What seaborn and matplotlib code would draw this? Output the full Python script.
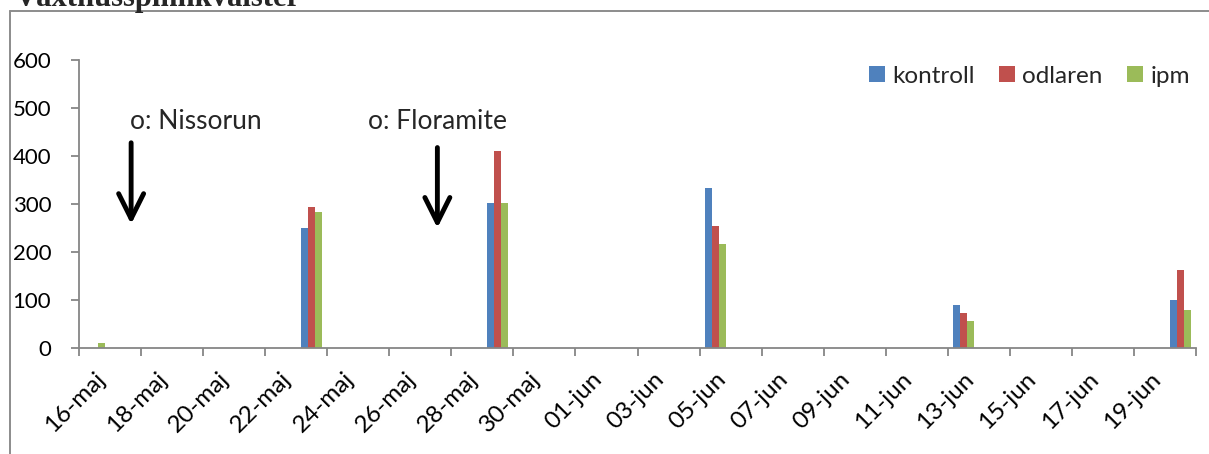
import numpy as np
import pandas as pd
import matplotlib
matplotlib.use("Agg")
import matplotlib.pyplot as plt
from matplotlib.lines import Line2D
import seaborn as sns

# ---- data ----
all_days = ([f"{d:02d}-maj" for d in range(16, 32)] +
            [f"{d:02d}-jun" for d in range(1, 21)])
dates = ["16-maj", "23-maj", "29-maj", "05-jun", "13-jun", "20-jun"]
kontroll = [0, 250, 302, 334, 88, 99]
odlaren = [0, 293, 410, 253, 73, 162]
ipm = [10, 283, 302, 217, 55, 78]
series = ["kontroll", "odlaren", "ipm"]
colors = ["#4F81BD", "#C0504D", "#9BBB59"]
yticks = [0, 100, 200, 300, 400, 500, 600]
title = "Växthusspinnkvalster"
notes = ["o: Nissorun", "o: Floramite"]

rows = []
for s, vals in zip(series, [kontroll, odlaren, ipm]):
    for d, v in zip(dates, vals):
        rows.append({"date": d, "value": v, "series": s})
df = pd.DataFrame(rows)

sns.set_theme(style="white")
plt.rcParams["font.family"] = ["Lato", "DejaVu Sans"]

FS = 17
W, H = 1209, 454
fig = plt.figure(figsize=(W / 100, H / 100), dpi=100)
ax = fig.add_axes([79 / W, (H - 347.5) / H, (1196 - 79) / W, (347.5 - 60.5) / H])

sns.barplot(data=df, x="date", y="value", hue="series", order=all_days,
            hue_order=series, palette=colors, width=0.68, errorbar=None,
            saturation=1, ax=ax, linewidth=0)

ax.set_xlim(-0.5, len(all_days) - 0.5)
ax.set_ylim(0, 600)
ax.set_xlabel("")
ax.set_ylabel("")

grey = "#868686"
for side in ["top", "right"]:
    ax.spines[side].set_visible(False)
for side in ["left", "bottom"]:
    ax.spines[side].set_color(grey)
    ax.spines[side].set_linewidth(1.3)

ax.set_yticks(yticks)
ax.set_yticklabels([str(v) for v in yticks], fontsize=16, color="black")
ax.tick_params(axis="y", which="major", direction="out", length=6, width=1.3,
               color=grey, left=True, pad=14)

major_pos = list(range(0, len(all_days), 2))
ax.set_xticks(major_pos)
ax.set_xticklabels([all_days[i] for i in major_pos], rotation=45, ha="right",
                   rotation_mode="anchor", fontsize=FS + 0.5, color="black")
ax.set_xticks([p - 0.5 for p in range(0, len(all_days) + 1, 2)], minor=True)
ax.tick_params(axis="x", which="major", length=0, pad=15)
ax.tick_params(axis="x", which="minor", direction="out", length=6, width=1.3,
               color=grey, bottom=True)

leg = ax.legend(loc="upper right", bbox_to_anchor=(1.003, 1.015), ncol=3,
                frameon=False, fontsize=FS + 0.5, handlelength=0.65,
                handleheight=0.65, handletextpad=0.3, columnspacing=1.0,
                borderaxespad=0)

# annotations
ax.text(1.15, 472, notes[0], fontsize=19, va="center", ha="left")
ax.text(8.82, 472, notes[1], fontsize=19, va="center", ha="left")
arrow_kw = dict(arrowstyle="->,head_length=1.5,head_width=0.75", lw=3.5,
                color="black", shrinkA=0, shrinkB=0)
ax.annotate("", xy=(1.18, 258), xytext=(1.18, 428), arrowprops=arrow_kw)
ax.annotate("", xy=(11.05, 250), xytext=(11.05, 418), arrowprops=arrow_kw)

# outer frame and clipped title
fig.add_artist(Line2D([10 / W, 1], [(H - 11) / H, (H - 11) / H],
                      color="#8c8c8c", lw=1.4, transform=fig.transFigure))
fig.add_artist(Line2D([10 / W, 10 / W], [0, (H - 11) / H],
                      color="#8c8c8c", lw=1.4, transform=fig.transFigure))
fig.text(15 / W, (H - 6) / H, title, fontsize=22, fontweight="bold",
         family="Liberation Serif", va="baseline", ha="left")

fig.savefig("out.png", dpi=100, facecolor="white")
